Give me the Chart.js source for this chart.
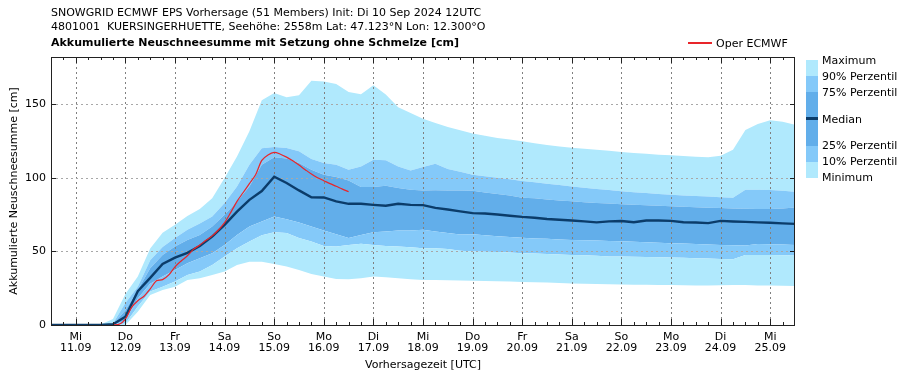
<!DOCTYPE html>
<html>
<head>
<meta charset="utf-8">
<script src="https://cdn.jsdelivr.net/npm/chart.js@4"></script>
<style>
  body { margin:0; background:#fff; font-family:"DejaVu Sans", sans-serif; }
  #wrap { position:relative; width:909px; height:380px; overflow:hidden; }
  canvas { position:absolute; left:0; top:0; }
  .t { position:absolute; font-size:11px; color:#000; white-space:pre; line-height:13px; }
  .b { font-weight:bold; }
  .sw { position:absolute; left:806px; width:12px; }
</style>
</head>
<body>
<div id="wrap">
  <canvas id="c" width="909" height="380"></canvas>
  <div class="t" style="left:51px;top:6px;">SNOWGRID ECMWF EPS Vorhersage (51 Members) Init: Di 10 Sep 2024 12UTC</div>
  <div class="t" style="left:51px;top:20px;">4801001  KUERSINGERHUETTE, Seehöhe: 2558m Lat: 47.123°N Lon: 12.300°O</div>
  <div class="t b" style="left:51px;top:36px;">Akkumulierte Neuschneesumme mit Setzung ohne Schmelze [cm]</div>
  <div style="position:absolute;left:688px;top:42px;width:24px;height:1.5px;background:#e8252a;"></div>
  <div class="t" style="left:716px;top:37px;">Oper ECMWF</div>
  <div class="sw" style="top:60px;height:16px;background:#b0e9fd;"></div>
  <div class="sw" style="top:76px;height:16px;background:#84c9f9;"></div>
  <div class="sw" style="top:92px;height:54px;background:#62aeea;"></div>
  <div class="sw" style="top:117px;height:3px;background:#0b3c6a;"></div>
  <div class="sw" style="top:146px;height:16px;background:#84c9f9;"></div>
  <div class="sw" style="top:162px;height:16px;background:#b0e9fd;"></div>
  <div class="t" style="left:822px;top:54px;">Maximum</div>
  <div class="t" style="left:822px;top:70px;">90% Perzentil</div>
  <div class="t" style="left:822px;top:86px;">75% Perzentil</div>
  <div class="t" style="left:822px;top:113px;">Median</div>
  <div class="t" style="left:822px;top:139px;">25% Perzentil</div>
  <div class="t" style="left:822px;top:155px;">10% Perzentil</div>
  <div class="t" style="left:822px;top:171px;">Minimum</div>
</div>
<script>
// Forecast hours since init (10.09 12UTC), 6-hourly
const hours = [];
for (let h = 0; h <= 360; h += 6) hours.push(h);

const maximum = [0,0,0,0,0.3,4,21,33,52,62.6,68,74,78.7,86,99.8,114.5,131.5,152.6,157.6,154.6,156,165.8,165.3,163.7,158.3,156.7,162.8,156.5,147.8,144,140,137.2,134.5,132.2,130,128.6,127,126,124.8,123.5,122.3,121.3,120.4,119.7,119,118.3,117.5,116.8,116.3,115.7,115.2,114.8,114.3,114,115,119,132.5,136.5,139,138,136];
const p90 = [0,0,0,0,0,1,15,26,44,53,59,64.6,69,73.7,82.8,94,108.8,120,120.9,120.2,118,112.7,110,108.8,105.4,107.7,112.2,111.8,107.7,105,107.3,109.5,106,104,102,101,100,99,97.8,97,96,95,94,93.2,92.4,91.6,90.8,90.2,89.6,89,88.4,88,87.6,87.2,86.8,86.4,91.8,91.8,91.6,91.2,90.5];
const p75 = [0,0,0,0,0,0.5,10,23.8,38.5,47.6,53.3,57.8,61.2,66.9,74.8,83.9,94,108.8,114,113,110,105.4,102,100.5,98.2,93.7,93.7,94.6,93,91.8,91.4,91.5,91.4,91.4,91.2,90,89,88,86.5,86,85.2,84.6,84,83.4,82.9,82.5,82,81.7,81.3,81,80.6,80.3,80,79.7,79.4,79.2,79,78.8,78.7,79.2,79.8];
const median = [0,0,0,0,0,0.5,5.6,23,32,41.5,45.8,49,53.7,60,68,77,85,91,100.7,96.4,91.4,86.8,86.6,83.9,82.3,82.3,81.6,81,82.3,81.6,81.4,79.5,78.4,77.2,76,75.7,75,74.2,73.4,72.8,72,71.5,71,70.4,69.7,70.4,70.6,69.8,71,71,70.7,69.8,69.6,69.2,70.7,70.3,70,69.7,69.4,69,68.7];
const p25 = [0,0,0,0,0,0,3,18,28,33,37.4,42,45.4,48.8,54.4,61.2,66.9,70.3,73.7,71.9,69.6,66.9,64.2,61.7,59,61.2,63,63.5,64.2,64.2,64.6,63.5,62.5,61.5,61.7,61,60.3,59.7,59.2,58.8,58.5,58.1,57.8,57.5,57.3,57.1,56.8,56.5,56.2,55.9,55.6,55.3,55,54.7,54.4,54.2,54,55,54.8,54.6,54.4];
const p10 = [0,0,0,0,0,0,1,12.5,22.7,26,29.5,34,36.3,40.8,46.5,52.2,56.7,61,63,62.4,59,56.7,53.7,53.3,54.4,55.1,54.4,53.7,53.3,52.8,52.2,52.2,51.6,50.5,49.9,49.7,49.5,49.2,48.8,48.5,48.2,47.9,47.6,47.3,47,46.6,46.5,46.3,46.1,46,45.8,45.6,45.4,45.1,44.9,44.7,47.6,47.6,47.5,47.4,47.2];
const minimum = [0,0,0,0,0,0,0,9,20.4,23.8,26,30.6,31.7,34,36.3,40.8,43,43,41.5,39.7,37.4,34.7,32.9,31.3,31.1,31.7,32.9,32.4,31.7,31.1,30.6,30.5,30.4,30.2,30,29.9,29.7,29.5,29.2,29,28.8,28.5,28.2,28,27.8,27.6,27.5,27.4,27.3,27.2,27.1,27,26.9,26.8,27,27.2,27.1,26.9,26.8,26.7,26.5];

// Operational run, 3-hourly
const operHours = [30,33,36,39,42,45,48,51,54,57,60,63,66,69,72,75,78,81,84,87,90,93,96,99,102,105,108,111,114,117,120,123,126,129,132,135,138,141,144];
const oper = [0,0.5,4,12,16.5,19.5,24.5,30,30.8,34,39.5,43.5,47,51.5,54.3,57.5,60.5,64.5,69.5,76.5,84,90,96,102,111.8,115.5,117.2,116,114,111.5,108.6,105.5,102.5,100,98,96,94.2,92.3,90.5];

// Axis ticks (00UTC of each day) and labels
const dayHours = [12,36,60,84,108,132,156,180,204,228,252,276,300,324,348];
const dayLabels = [['Mi','11.09'],['Do','12.09'],['Fr','13.09'],['Sa','14.09'],['So','15.09'],['Mo','16.09'],['Di','17.09'],['Mi','18.09'],['Do','19.09'],['Fr','20.09'],['Sa','21.09'],['So','22.09'],['Mo','23.09'],['Di','24.09'],['Mi','25.09']];
const yTicks = [0,50,100,150];

const C_OUT = '#b0e9fd', C_MID = '#84c9f9', C_IN = '#62aeea';
const pts = arr => arr.map((v,i) => ({x: hours[i], y: v}));
const band = (label, arr, color, fill) => ({
  label, data: pts(arr), borderWidth: 0, pointRadius: 0, borderColor: 'rgba(0,0,0,0)',
  backgroundColor: color, fill, tension: 0, order: 2
});

const datasets = [
  band('Minimum', minimum, C_OUT, false),
  band('10% Perzentil', p10, C_OUT, '-1'),
  band('25% Perzentil', p25, C_MID, '-1'),
  band('75% Perzentil', p75, C_IN, '-1'),
  band('90% Perzentil', p90, C_MID, '-1'),
  band('Maximum', maximum, C_OUT, '-1'),
  { label:'Median', data: pts(median), borderColor:'#0b3c6a', borderWidth:2.4, pointRadius:0, fill:false, tension:0, order:1 },
  { label:'Oper ECMWF', data: oper.map((v,i)=>({x:operHours[i], y:v})), borderColor:'#e8252a', borderWidth:1.2, pointRadius:0, fill:false, tension:0.3, order:0 }
];
const MEDIAN_IDX = 6;

function drawGrid(chart) {
  const {ctx, chartArea: a, scales: {x, y}} = chart;
  ctx.save();
  ctx.lineWidth = 1;
  ctx.setLineDash([2,3]);
  ctx.strokeStyle = '#808080';
  dayHours.forEach(h => {
    const px = Math.round(x.getPixelForValue(h)) + 0.5;
    ctx.beginPath(); ctx.moveTo(px, a.top); ctx.lineTo(px, a.bottom); ctx.stroke();
  });
  ctx.strokeStyle = '#a8a8a8';
  yTicks.slice(1).forEach(v => {
    const py = Math.round(y.getPixelForValue(v)) + 0.5;
    ctx.beginPath(); ctx.moveTo(a.left, py); ctx.lineTo(a.right, py); ctx.stroke();
  });
  ctx.restore();
}

function drawFrame(chart) {
  const {ctx, chartArea: a, scales: {x, y}} = chart;
  ctx.save();
  ctx.setLineDash([]);
  ctx.lineWidth = 1;
  ctx.strokeStyle = '#222';
  for (let h = 6; h < 360; h += 6) {
    const px = Math.round(x.getPixelForValue(h)) + 0.5;
    const len = ((h - 12) % 24 === 0) ? 6 : 3;
    ctx.beginPath();
    ctx.moveTo(px, a.bottom); ctx.lineTo(px, a.bottom - len);
    ctx.moveTo(px, a.top); ctx.lineTo(px, a.top + len);
    ctx.stroke();
  }
  yTicks.forEach(v => {
    const py = Math.round(y.getPixelForValue(v)) + 0.5;
    ctx.beginPath();
    ctx.moveTo(a.left, py); ctx.lineTo(a.left + 5, py);
    ctx.moveTo(a.right, py); ctx.lineTo(a.right - 5, py);
    ctx.stroke();
  });
  ctx.strokeRect(Math.round(a.left) + 0.5, Math.round(a.top) + 0.5, Math.round(a.right - a.left) - 1, Math.round(a.bottom - a.top));
  ctx.restore();
}

const framePlugin = {
  id: 'frame',
  beforeDatasetDraw(chart, args) { if (args.index === MEDIAN_IDX) drawGrid(chart); },
  afterDraw(chart) { drawFrame(chart); }
};

Chart.defaults.font.family = '"DejaVu Sans", sans-serif';
Chart.defaults.font.size = 11;
Chart.defaults.color = '#000';

new Chart(document.getElementById('c'), {
  type: 'line',
  data: { datasets },
  options: {
    responsive: false,
    animation: false,
    devicePixelRatio: 1,
    layout: { padding: { left: 0, right: 114, top: 57, bottom: 0 } },
    plugins: { legend: { display: false }, tooltip: { enabled: false } },
    scales: {
      x: {
        type: 'linear', min: 0, max: 360,
        afterBuildTicks: s => { s.ticks = dayHours.map(v => ({ value: v })); },
        afterFit: s => { s.height = 55; },
        grid: { display: false, drawTicks: false },
        border: { display: false },
        ticks: { autoSkip: false, maxRotation: 0, padding: 6, font: { size: 11, lineHeight: 1.05 },
                 callback: (v, i) => dayLabels[i] },
        title: { display: true, text: 'Vorhersagezeit [UTC]', font: { size: 11 }, padding: { top: 0, bottom: 8 } }
      },
      y: {
        min: 0, max: 182,
        afterBuildTicks: s => { s.ticks = yTicks.map(v => ({ value: v })); },
        afterFit: s => { s.width = 51; },
        grid: { display: false, drawTicks: false },
        border: { display: false },
        ticks: { padding: 5, font: { size: 11 } },
        title: { display: true, text: 'Akkumulierte Neuschneesumme [cm]', font: { size: 11 }, padding: { top: 8, bottom: 0 } }
      }
    }
  },
  plugins: [framePlugin]
});
</script>
</body>
</html>
